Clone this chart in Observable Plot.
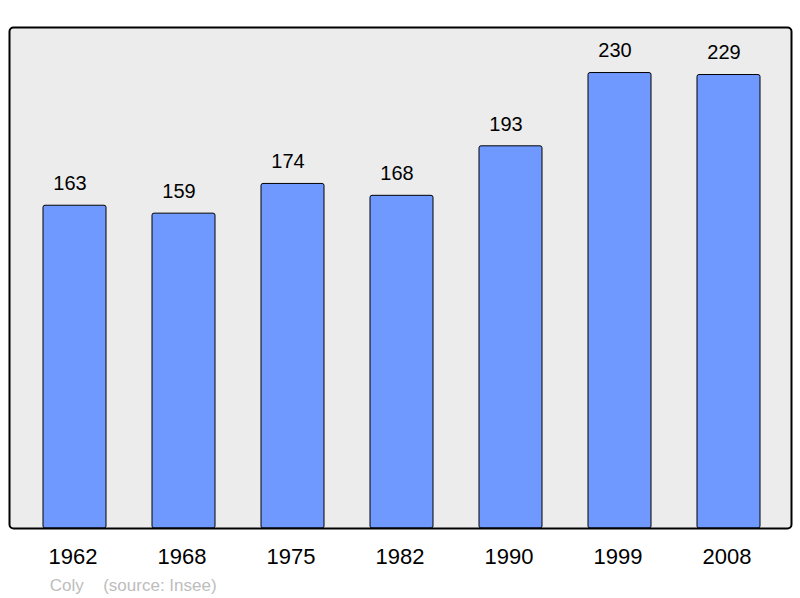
<!DOCTYPE html>
<html><head><meta charset="utf-8">
<script src="https://cdn.jsdelivr.net/npm/d3@7"></script>
<script src="https://cdn.jsdelivr.net/npm/@observablehq/plot@0.6"></script>
<style>body{margin:0;background:#fff;} svg{display:block}</style>
</head><body><div id="chart"></div>
<script>
const years = ["1962","1968","1975","1982","1990","1999","2008"];
const population = [163,159,174,168,193,230,229];
const captionParts = ["Coly", "(source: Insee)"];
const data = years.map((y,i)=>({year:y, pop:population[i]}));
const chart = Plot.plot({
  width:800, height:598, marginLeft:9, marginRight:9, marginTop:27, marginBottom:70,
  style:{fontFamily:"'Liberation Sans', Arial, sans-serif", background:"#fff", color:"black"},
  x:{domain:years, range:[41.7,761.7], paddingInner:0.4215, paddingOuter:0, align:0.5},
  y:{domain:[0,253], axis:null},
  marks:[
    Plot.frame({fill:"#ececec", stroke:null, rx:4}),
    Plot.barY(data,{x:"year", y:"pop", fill:"#7099ff", stroke:"black", strokeWidth:1, rx:2}),
    Plot.frame({stroke:"black", strokeWidth:2, rx:4}),
    Plot.text(data,{x:"year", y:"pop", text:d=>String(d.pop), dx:-5, dy:-22, fontSize:20, fill:"black", lineAnchor:"middle"}),
    Plot.axisX({tickSize:0, tickPadding:20, fontSize:22, label:null, fill:"black", dx:-2}),
    Plot.text([captionParts[0]],{frameAnchor:"bottom-left", dx:40.3, dy:57, textAnchor:"start", lineAnchor:"middle", fontSize:17, fill:"#bdbdbd"}),
    Plot.text([captionParts[1]],{frameAnchor:"bottom-left", dx:93.7, dy:57, textAnchor:"start", lineAnchor:"middle", fontSize:17, fill:"#bdbdbd"})
  ]
});
document.getElementById("chart").appendChild(chart);
</script>
</body></html>
